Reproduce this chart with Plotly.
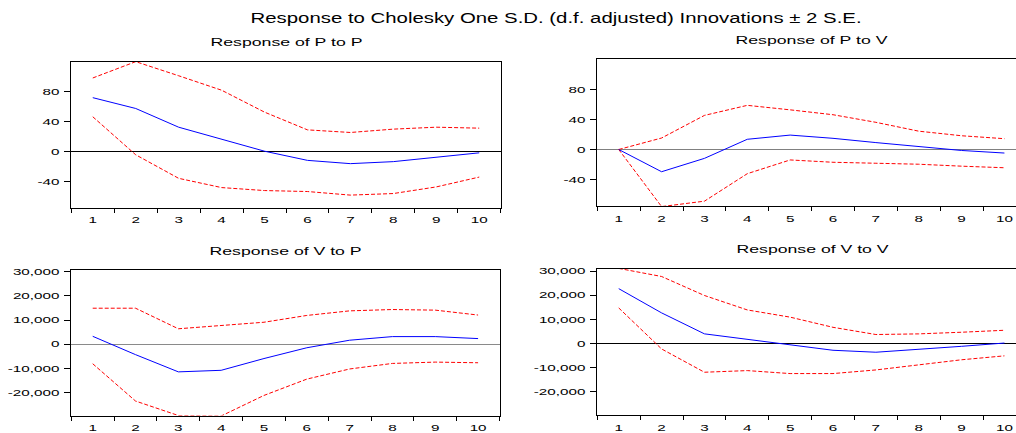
import plotly.graph_objects as go

# ---------------- data ----------------
periods = [1, 2, 3, 4, 5, 6, 7, 8, 9, 10]

pp_resp = [72.2, 57.7, 32.6, 16.3, 0.4, -11.9, -16.3, -13.6, -7.5, -1.8]
pp_upper = [98.6, 120.5, 101.6, 82.2, 52.8, 29.0, 25.5, 30.0, 32.6, 31.3]
pp_lower = [46.6, -4.4, -36.0, -48.4, -52.4, -53.7, -58.5, -56.4, -47.5, -34.3]

pv_resp = [0.0, -29.6, -11.8, 13.6, 19.2, 14.9, 9.2, 3.5, -1.3, -4.7]
pv_upper = [0.0, 15.3, 45.4, 58.8, 52.8, 46.3, 36.2, 24.4, 18.3, 14.4]
pv_lower = [0.0, -76.0, -68.8, -32.2, -13.9, -17.0, -18.3, -19.6, -22.2, -24.3]

vp_resp = [3250, -4350, -11500, -10850, -5970, -1500, 1630, 3120, 3120, 2300]
vp_upper = [14900, 14900, 6370, 7720, 9080, 11900, 13800, 14350, 14100, 12060]
vp_lower = [-8130, -23600, -29600, -29800, -21260, -14500, -10300, -8000, -7450, -7720]

vv_resp = [22700, 12650, 3950, 1630, -400, -2860, -3670, -2580, -1220, 140]
vv_upper = [31100, 27740, 19860, 13870, 10880, 6660, 3670, 3940, 4620, 5440]
vv_lower = [14700, -2310, -11970, -11290, -12520, -12520, -11020, -8980, -6800, -5170]

top_ticks = [-40, 0, 40, 80]
top_ticktext = ["-40", "0", "40", "80"]
bot_ticks = [-20000, -10000, 0, 10000, 20000, 30000]
bot_ticktext = ["-20,000", "-10,000", "0", "10,000", "20,000", "30,000"]
x_ticktext = [str(p) for p in periods]

main_title = "Response to Cholesky One S.D. (d.f. adjusted) Innovations \u00b1 2 S.E."
panel_titles = ["Response of P to P", "Response of P to V",
                "Response of V to P", "Response of V to V"]

# ---------------- layout geometry ----------------
W, H = 1016, 433
FONT = "Liberation Sans, Arial, sans-serif"

def px_x(v):
    return v / W

def px_y(v):
    return 1 - v / H

panels = [
    (pp_resp, pp_upper, pp_lower, (71.3, 500.7), (60.0, 208.3), [0.5, 10.5], [-75.7, 120.0],
     top_ticks, top_ticktext, "#000000", True),
    (pv_resp, pv_upper, pv_lower, (597.3, 1016), (57.3, 206.7), [0.5, 10.27], [-75.7, 120.0],
     top_ticks, top_ticktext, "#808080", False),
    (vp_resp, vp_upper, vp_lower, (71.3, 499.5), (271.0, 419.3), [0.5, 10.5], [-29600, 30900],
     bot_ticks, bot_ticktext, "#8a8a8a", True),
    (vv_resp, vv_upper, vv_lower, (597.3, 1016), (270.0, 419.0), [0.5, 10.27], [-29800, 31000],
     bot_ticks, bot_ticktext, "#000000", False),
]

fig = go.Figure()
layout = dict(
    width=W, height=H, autosize=False,
    margin=dict(l=0, r=0, t=0, b=0, pad=0),
    paper_bgcolor="white", plot_bgcolor="white",
    showlegend=False,
    font=dict(family=FONT, color="#000000"),
)

boundaries = [p - 0.5 for p in periods] + [periods[-1] + 0.5]

for i, (resp, up, lo, xd, yd, xr, yr, tv, tt, zc, mir) in enumerate(panels):
    n = "" if i == 0 else str(i + 1)
    xa, ya = "x" + n, "y" + n
    for vals, color, dash in [(up, "#ff0000", "4px,2px"), (lo, "#ff0000", "4px,2px"),
                              (resp, "#0000ff", "solid")]:
        fig.add_trace(go.Scatter(x=periods, y=vals, mode="lines", xaxis=xa, yaxis=ya,
                                 line=dict(color=color, width=1, dash=dash),
                                 hoverinfo="skip"))
    layout["xaxis" + n] = dict(
        domain=[px_x(xd[0]), px_x(xd[1])], range=xr, anchor=ya,
        showgrid=False, zeroline=False, showline=True, mirror=True,
        linecolor="#000000", linewidth=1,
        tickmode="array", tickvals=periods, ticktext=x_ticktext,
        ticks="", ticklabelstandoff=3,
        tickfont=dict(family=FONT, size=9.5, color="#000000"),
        minor=dict(tickmode="array", tickvals=boundaries, ticks="outside",
                   ticklen=4, tickcolor="#000000", tickwidth=1, showgrid=False),
        fixedrange=True,
    )
    layout["yaxis" + n] = dict(
        domain=[px_y(yd[1]), px_y(yd[0])], range=yr, anchor=xa,
        showgrid=False, showline=True, mirror=mir, linecolor="#000000", linewidth=1,
        zeroline=True, zerolinecolor=zc, zerolinewidth=1.3,
        tickmode="array", tickvals=tv, ticktext=tt,
        ticks="outside", ticklen=6, tickcolor="#000000", ticklabelstandoff=3,
        tickfont=dict(family=FONT, size=9.5, color="#000000"),
        fixedrange=True,
    )

title_pos = [(286, 40), (811, 38), (285.5, 252), (812, 250)]
annotations = [dict(text=main_title, x=px_x(555.5), y=px_y(15), xref="paper", yref="paper",
                    xanchor="center", yanchor="middle", showarrow=False,
                    font=dict(family=FONT, size=14, color="#000000"))]
for t, (cx, cy) in zip(panel_titles, title_pos):
    annotations.append(dict(text=t, x=px_x(cx), y=px_y(cy), xref="paper", yref="paper",
                            xanchor="center", yanchor="middle", showarrow=False,
                            font=dict(family=FONT, size=11.5, color="#000000")))
layout["annotations"] = annotations
fig.update_layout(**layout)

# Page without margins, and text stretched horizontally as in the original.
post = """
document.documentElement.style.margin = '0';
document.documentElement.style.overflow = 'hidden';
document.body.style.margin = '0';
document.body.style.overflow = 'hidden';
var gd = document.getElementById('{plot_id}');
function stretchText(){
  var targets = {};
  targets[%s] = 611;
  var tl = gd.querySelectorAll('text');
  tl.forEach(function(t){
    var txt = t.textContent;
    var len = t.getComputedTextLength();
    if (!len) return;
    var goal;
    if (targets[txt] !== undefined) { goal = targets[txt]; }
    else if (txt.indexOf('Response of') === 0) { goal = 152; }
    else { goal = len * 1.6; }
    t.setAttribute('textLength', goal.toFixed(1));
    t.setAttribute('lengthAdjust', 'spacingAndGlyphs');
  });
}
stretchText();
gd.on('plotly_afterplot', stretchText);
""" % repr(main_title).replace("'", '"')

fig.write_html("out.html", post_script=post, config={"displayModeBar": False})
